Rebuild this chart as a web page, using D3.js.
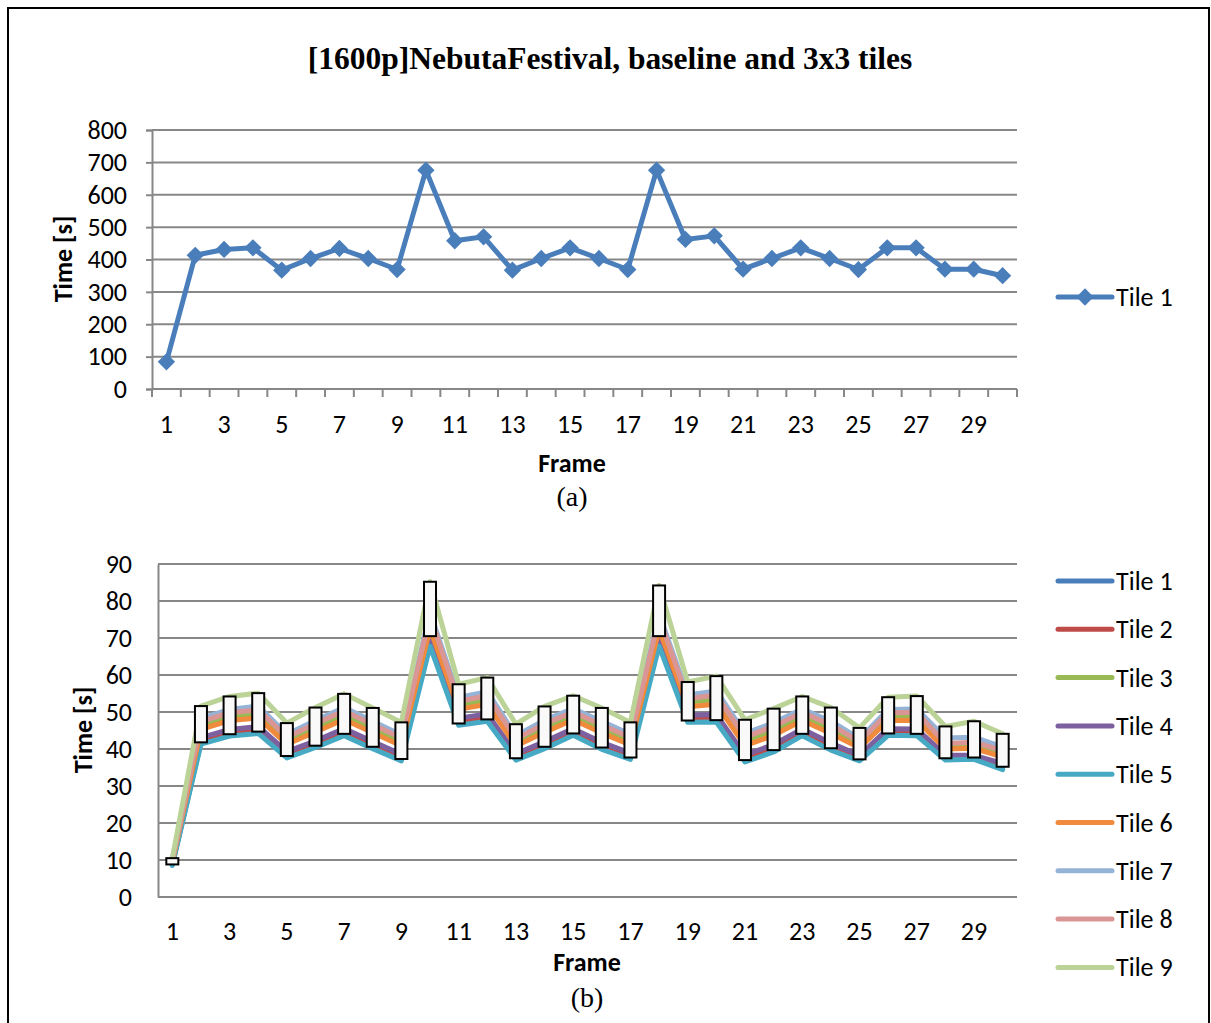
<!DOCTYPE html>
<html>
<head>
<meta charset="utf-8">
<script src="https://cdn.jsdelivr.net/npm/d3@7"></script>
<style>
  body { margin: 0; background: #fff; }
  svg { display: block; }
</style>
</head>
<body>
<div id="chart"></div>
<script>
// frames 1..30
const frames = [1,2,3,4,5,6,7,8,9,10,11,12,13,14,15,16,17,18,19,20,21,22,23,24,25,26,27,28,29,30];
const frameTicks = [1,3,5,7,9,11,13,15,17,19,21,23,25,27,29];

// (a) baseline, one tile
const baselineTime = [84,413,431,436,367,403,434,403,369,676,458,470,367,403,436,403,369,676,462,473,370,403,436,403,369,436,436,370,370,350];
const yTicksA = [0,100,200,300,400,500,600,700,800];

// (b) 3x3 tiles
const tile1 = [8.8,41.8,44.0,44.7,38.1,40.9,44.1,40.6,37.3,70.5,46.9,48.0,37.5,40.6,44.2,40.4,37.7,70.5,47.7,47.8,37.0,39.7,44.1,40.2,37.2,44.2,44.1,37.5,37.7,35.2];
const tile2 = [8.9,42.3,44.5,45.2,38.5,41.4,44.6,41.1,37.8,70.8,47.4,48.6,38.0,41.1,44.7,40.9,38.2,70.8,48.2,48.4,37.5,40.3,44.6,40.7,37.6,44.7,44.6,37.9,38.0,35.5];
const tile3 = [9.6,46.4,48.8,49.6,42.3,45.7,49.2,45.5,42.0,74.0,51.9,53.3,41.8,45.7,49.0,45.4,42.2,73.8,52.6,53.4,42.1,45.0,48.8,45.4,41.2,48.8,48.9,41.0,41.5,38.9];
const tile4 = [9.0,43.1,45.3,46.1,39.3,42.2,45.5,42.0,38.6,69.6,48.3,49.5,38.7,42.0,45.5,41.8,38.9,69.8,49.1,49.3,38.4,41.2,45.4,41.6,38.3,45.5,45.4,38.4,38.3,36.1];
const tile5 = [8.5,41.3,43.5,44.2,37.6,40.4,43.6,40.1,36.8,67.8,46.4,47.5,37.0,40.1,43.7,39.9,37.2,67.8,47.2,47.3,36.5,39.2,43.6,39.7,36.8,43.7,43.6,37.0,37.2,34.4];
const tile6 = [9.4,45.3,47.7,48.4,41.3,44.6,48.0,44.4,40.9,72.5,50.7,52.1,40.8,44.5,47.9,44.3,41.1,72.3,51.4,52.1,40.9,43.7,47.7,44.2,40.3,47.7,47.8,40.0,40.2,37.8];
const tile7 = [9.9,48.3,50.7,51.6,44.0,47.7,51.2,47.5,43.8,77.0,53.9,55.5,43.6,47.8,50.9,47.5,44.0,76.5,54.6,55.7,44.2,47.1,50.8,47.5,42.8,50.7,50.8,43.0,43.2,40.5];
const tile8 = [9.8,47.4,49.8,50.6,43.2,46.8,50.3,46.6,43.0,76.0,52.9,54.4,42.7,46.8,50.0,46.5,43.1,75.5,53.6,54.6,43.2,46.1,49.9,46.5,42.0,49.8,49.9,41.5,41.8,39.6];
const tile9 = [10.5,51.6,54.2,55.1,47.0,51.2,54.9,51.1,47.2,85.2,57.5,59.3,46.7,51.5,54.4,51.1,47.2,84.2,58.1,59.7,47.9,50.9,54.2,51.2,45.7,54.0,54.3,46.1,47.5,44.1];
const tileNames = ['Tile 1','Tile 2','Tile 3','Tile 4','Tile 5','Tile 6','Tile 7','Tile 8','Tile 9'];
const yTicksB = [0,10,20,30,40,50,60,70,80,90];

const tileColors = ['#4a7ebb','#be4b48','#98b954','#7d60a0','#46aac5','#f08a3c','#95b3d7','#d99694','#bcd398'];
const sansFont = "Carlito, Lato, 'Liberation Sans', sans-serif";
const serifFont = "'Liberation Serif', 'Times New Roman', serif";
const fontSize = '26px';

const svg = d3.select('#chart').append('svg')
  .attr('width', 1211)
  .attr('height', 1023);

svg.append('rect')
  .attr('x', 8).attr('y', 8)
  .attr('width', 1201).attr('height', 1100)
  .attr('fill', 'none')
  .attr('stroke', '#000')
  .attr('stroke-width', 2);

svg.append('text')
  .attr('x', 610).attr('y', 69)
  .attr('text-anchor', 'middle')
  .attr('font-family', serifFont)
  .attr('font-weight', 'bold')
  .attr('font-size', '31.5px')
  .text('[1600p]NebutaFestival, baseline and 3x3 tiles');

function drawChart(cfg) {
  let g = svg.append('g');

  let x = d3.scaleBand()
    .domain(frames)
    .range([cfg.left, cfg.right])
    .padding(0);
  let cx = (f) => x(f) + x.bandwidth() / 2;

  let y = d3.scaleLinear()
    .domain([0, cfg.yTicks[cfg.yTicks.length - 1]])
    .range([cfg.bottom, cfg.top]);

  // gridlines
  g.append('g')
    .selectAll('line')
    .data(cfg.yTicks.slice(1))
    .join('line')
    .attr('x1', cfg.left).attr('x2', cfg.right)
    .attr('y1', (d) => y(d)).attr('y2', (d) => y(d))
    .attr('stroke', '#878787')
    .attr('stroke-width', 2);

  // y axis
  let yAxis = g.append('g')
    .attr('transform', `translate(${cfg.left},0)`)
    .call(d3.axisLeft(y).tickValues(cfg.yTicks).tickSize(cfg.axisTicks ? 6 : 0).tickPadding(cfg.axisTicks ? 19 : 26));
  yAxis.select('.domain').attr('stroke', '#878787').attr('stroke-width', 2);
  yAxis.selectAll('.tick line').attr('stroke', '#878787').attr('stroke-width', 2);
  yAxis.selectAll('.tick text')
    .attr('font-family', sansFont).attr('font-size', fontSize).attr('fill', '#000');

  // x axis (category)
  g.append('line')
    .attr('x1', cfg.left).attr('x2', cfg.right)
    .attr('y1', cfg.bottom).attr('y2', cfg.bottom)
    .attr('stroke', '#878787').attr('stroke-width', 2);
  if (cfg.axisTicks) {
    g.append('g')
      .selectAll('line')
      .data(frames.concat([31]))
      .join('line')
      .attr('x1', (d) => cfg.left + (d - 1) * x.bandwidth())
      .attr('x2', (d) => cfg.left + (d - 1) * x.bandwidth())
      .attr('y1', cfg.bottom).attr('y2', cfg.bottom + 8)
      .attr('stroke', '#878787').attr('stroke-width', 2);
  }
  g.append('g')
    .selectAll('text')
    .data(frameTicks)
    .join('text')
    .attr('x', (d) => cx(d))
    .attr('y', cfg.bottom + cfg.xLabelGap)
    .attr('text-anchor', 'middle')
    .attr('font-family', sansFont).attr('font-size', fontSize)
    .text((d) => d);

  // axis titles
  g.append('text')
    .attr('x', cfg.frameX).attr('y', cfg.frameY)
    .attr('text-anchor', 'middle')
    .attr('font-family', sansFont).attr('font-weight', 'bold').attr('font-size', fontSize)
    .text('Frame');
  g.append('text')
    .attr('transform', `translate(${cfg.timeX},${cfg.timeY}) rotate(-90)`)
    .attr('text-anchor', 'middle')
    .attr('font-family', sansFont).attr('font-weight', 'bold').attr('font-size', fontSize)
    .text('Time [s]');
  g.append('text')
    .attr('x', cfg.frameX).attr('y', cfg.captionY)
    .attr('text-anchor', 'middle')
    .attr('font-family', serifFont).attr('font-size', '28px')
    .text(cfg.caption);

  let line = d3.line()
    .x((d, i) => cx(frames[i]))
    .y((d) => y(d));

  cfg.series.forEach((s) => {
    g.append('path')
      .datum(s.values)
      .attr('d', line)
      .attr('fill', 'none')
      .attr('stroke', s.color)
      .attr('stroke-width', cfg.lineWidth)
      .attr('stroke-linejoin', 'round')
      .attr('stroke-linecap', 'round');
  });

  if (cfg.markers) {
    cfg.series.forEach((s) => {
      g.append('g')
        .selectAll('path')
        .data(s.values)
        .join('path')
        .attr('transform', (d, i) => `translate(${cx(frames[i])},${y(d)}) rotate(45)`)
        .attr('d', d3.symbol().type(d3.symbolSquare).size(150))
        .attr('fill', s.color);
    });
  }

  // up-down bars between first and last series
  if (cfg.upDown) {
    let first = cfg.series[0].values;
    let last = cfg.series[cfg.series.length - 1].values;
    g.append('g')
      .selectAll('rect')
      .data(frames)
      .join('rect')
      .attr('x', (d) => cx(d) - 6)
      .attr('width', 12)
      .attr('y', (d, i) => y(Math.max(first[i], last[i])))
      .attr('height', (d, i) => Math.abs(y(first[i]) - y(last[i])))
      .attr('fill', '#f9f9f9')
      .attr('stroke', '#000')
      .attr('stroke-width', 2);
  }

  // legend
  let leg = g.append('g')
    .selectAll('g')
    .data(cfg.series)
    .join('g')
    .attr('transform', (d, i) => `translate(0,${cfg.legendY + i * cfg.legendStep})`);
  leg.append('line')
    .attr('x1', 1058).attr('x2', 1112)
    .attr('y1', 0).attr('y2', 0)
    .attr('stroke', (d) => d.color)
    .attr('stroke-width', cfg.lineWidth)
    .attr('stroke-linecap', 'round');
  if (cfg.markers) {
    leg.append('path')
      .attr('transform', 'translate(1085,0) rotate(45)')
      .attr('d', d3.symbol().type(d3.symbolSquare).size(150))
      .attr('fill', (d) => d.color);
  }
  leg.append('text')
    .attr('x', 1116).attr('y', 9)
    .attr('font-family', sansFont).attr('font-size', fontSize)
    .text((d) => d.name);
}

drawChart({
  left: 152, right: 1017, top: 130, bottom: 389,
  yTicks: yTicksA,
  axisTicks: true,
  xLabelGap: 44,
  frameX: 572, frameY: 472,
  timeX: 72, timeY: 259,
  captionY: 506, caption: '(a)',
  lineWidth: 5,
  markers: true,
  upDown: false,
  series: [{ name: 'Tile 1', values: baselineTime, color: '#4a7ebb' }],
  legendY: 297, legendStep: 0
});

const tiles = [tile1, tile2, tile3, tile4, tile5, tile6, tile7, tile8, tile9];
drawChart({
  left: 158, right: 1017, top: 564, bottom: 897,
  yTicks: yTicksB,
  axisTicks: false,
  xLabelGap: 43,
  frameX: 587, frameY: 971,
  timeX: 92, timeY: 730,
  captionY: 1007, caption: '(b)',
  lineWidth: 5,
  markers: false,
  upDown: true,
  series: tiles.map((v, i) => ({ name: tileNames[i], values: v, color: tileColors[i] })),
  legendY: 581, legendStep: 48.3
});
</script>
</body>
</html>
